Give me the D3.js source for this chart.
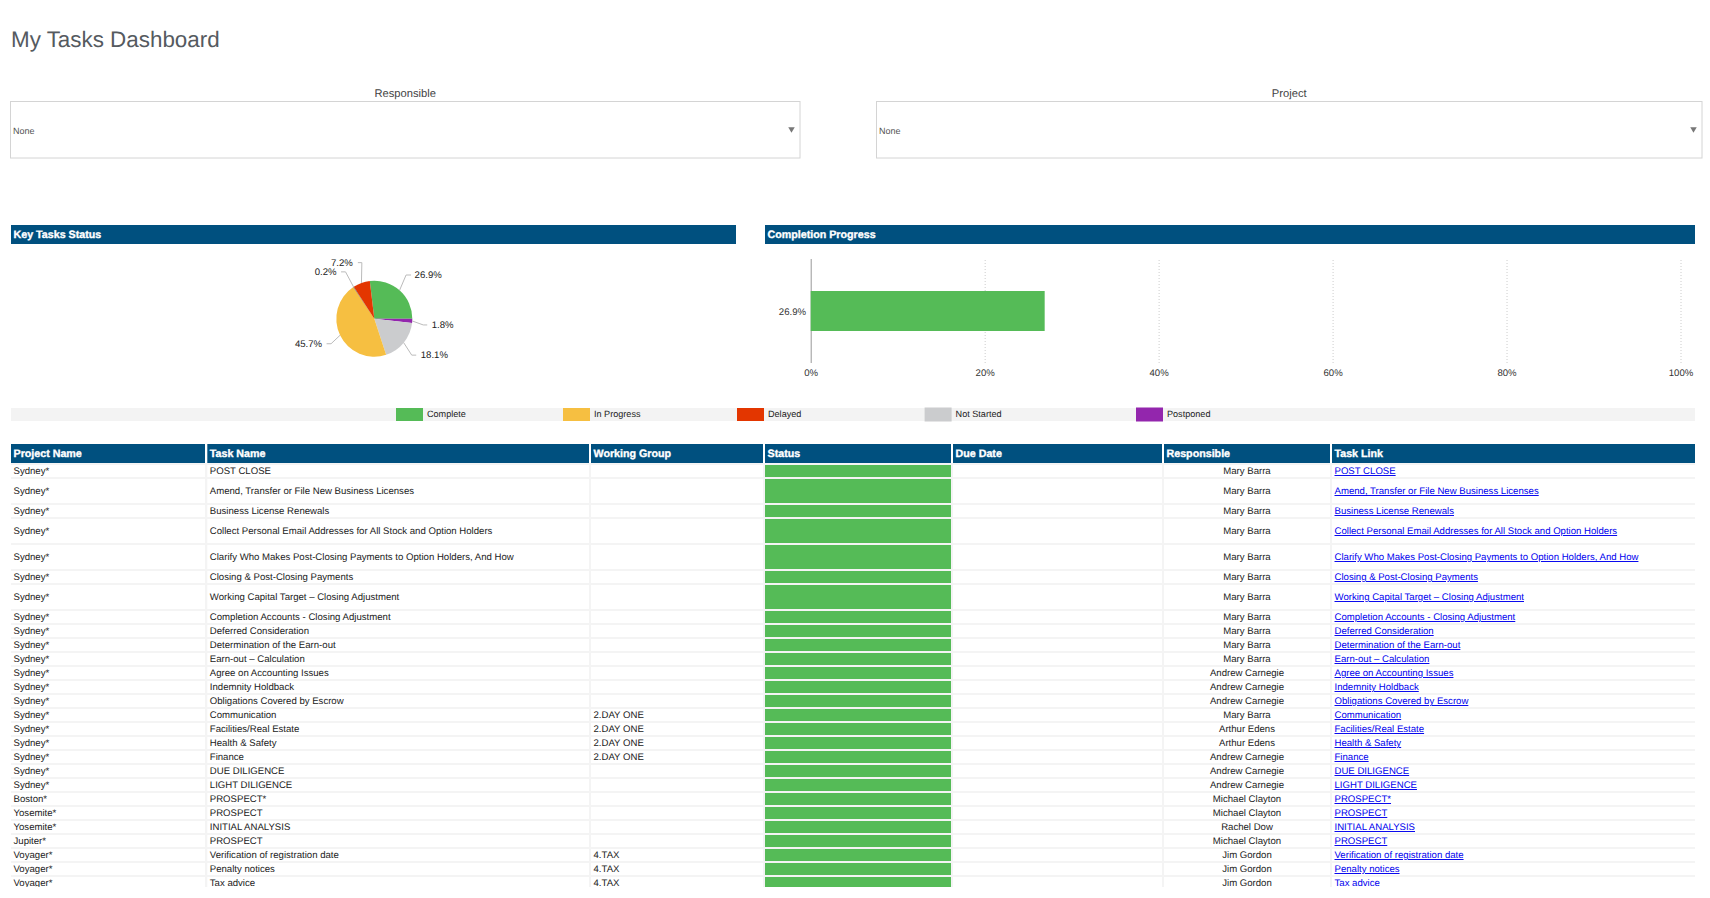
<!DOCTYPE html>
<html>
<head>
<meta charset="utf-8">
<title>My Tasks Dashboard</title>
<script src="https://cdn.jsdelivr.net/npm/d3@7"></script>
<style>
    html, body { margin: 0; padding: 0; background: #fff; overflow: hidden; }
    svg { display: block; font-family: "Liberation Sans", Arial, sans-serif; text-rendering: geometricPrecision; }
    .panel-title { font-size: 10.7px; font-weight: bold; fill: #fff; stroke: #fff; stroke-width: 0.35px; }
    .axis text { font-size: 9.6px; fill: #333; font-family: "Liberation Sans", Arial, sans-serif; }
    .cell { font-size: 9.6px; fill: #222; }
    .link { font-size: 9.6px; fill: #0000ee; text-decoration: underline; }
</style>
</head>
<body>
<svg id="dash" width="1710" height="898"></svg>
<script>
// status share of all key tasks, clockwise from the top of the pie
const pieLabels = ["Complete", "Postponed", "Not Started", "In Progress", "Other", "Delayed"];
const pieValues = [26.9, 1.8, 18.1, 45.7, 0.2, 7.2];
const pieColors = ["#55bb57", "#9326ad", "#cbccce", "#f6bf41", "#34507a", "#e33600"];

const progressLabels = ["26.9%"];
const progressValues = [26.9];
const progressTicks = [0, 20, 40, 60, 80, 100];

const legendLabels = ["Complete", "In Progress", "Delayed", "Not Started", "Postponed"];

const tableHeaders = ["Project Name", "Task Name", "Working Group", "Status", "Due Date", "Responsible", "Task Link"];

const projects = ["Sydney*", "Sydney*", "Sydney*", "Sydney*", "Sydney*", "Sydney*", "Sydney*", "Sydney*", "Sydney*",
    "Sydney*", "Sydney*", "Sydney*", "Sydney*", "Sydney*", "Sydney*", "Sydney*", "Sydney*", "Sydney*", "Sydney*",
    "Sydney*", "Boston*", "Yosemite*", "Yosemite*", "Jupiter*", "Voyager*", "Voyager*", "Voyager*"];

const tasks = ["POST CLOSE", "Amend, Transfer or File New Business Licenses", "Business License Renewals",
    "Collect Personal Email Addresses for All Stock and Option Holders",
    "Clarify Who Makes Post-Closing Payments to Option Holders, And How", "Closing & Post-Closing Payments",
    "Working Capital Target – Closing Adjustment", "Completion Accounts - Closing Adjustment",
    "Deferred Consideration", "Determination of the Earn-out", "Earn-out – Calculation",
    "Agree on Accounting Issues", "Indemnity Holdback", "Obligations Covered by Escrow", "Communication",
    "Facilities/Real Estate", "Health & Safety", "Finance", "DUE DILIGENCE", "LIGHT DILIGENCE", "PROSPECT*",
    "PROSPECT", "INITIAL ANALYSIS", "PROSPECT", "Verification of registration date", "Penalty notices", "Tax advice"];

const groups = ["", "", "", "", "", "", "", "", "", "", "", "", "", "", "2.DAY ONE", "2.DAY ONE", "2.DAY ONE",
    "2.DAY ONE", "", "", "", "", "", "", "4.TAX", "4.TAX", "4.TAX"];

const responsible = ["Mary Barra", "Mary Barra", "Mary Barra", "Mary Barra", "Mary Barra", "Mary Barra", "Mary Barra",
    "Mary Barra", "Mary Barra", "Mary Barra", "Mary Barra", "Andrew Carnegie", "Andrew Carnegie", "Andrew Carnegie",
    "Mary Barra", "Arthur Edens", "Arthur Edens", "Andrew Carnegie", "Andrew Carnegie", "Andrew Carnegie",
    "Michael Clayton", "Michael Clayton", "Rachel Dow", "Michael Clayton", "Jim Gordon", "Jim Gordon", "Jim Gordon"];

// rows that wrapped to two lines in the original table
const tallRows = [1, 3, 4, 6];

const NAVY = "#00507f";
const GREEN = pieColors[0];

class TasksDashboard {
    constructor() {
        this.svg = d3.select("#dash");

        this.drawTitle();
        this.drawFilter("Responsible", 10.5, 800);
        this.drawFilter("Project", 876.5, 1702);
        this.drawPanelHeader("Key Tasks Status", 11, 736);
        this.drawPanelHeader("Completion Progress", 765, 1695);
        this.drawPie();
        this.drawProgress();
        this.drawLegend();
        this.drawTable();
    }

    drawTitle() {
        this.svg.append("text")
            .attr("x", 11).attr("y", 47)
            .attr("font-size", 22.4)
            .attr("fill", "#555a5f")
            .text("My Tasks Dashboard");
    }

    drawFilter(label, x0, x1) {
        let g = this.svg.append("g");
        g.append("text")
            .attr("x", (x0 + x1) / 2).attr("y", 97)
            .attr("text-anchor", "middle")
            .attr("font-size", 11.2)
            .attr("fill", "#444")
            .text(label);
        g.append("rect")
            .attr("x", x0).attr("y", 101.5)
            .attr("width", x1 - x0).attr("height", 56.5)
            .attr("fill", "#fff")
            .attr("stroke", "#d4d4d4");
        g.append("text")
            .attr("x", x0 + 2.5).attr("y", 134)
            .attr("font-size", 9)
            .attr("fill", "#555")
            .text("None");
        g.append("path")
            .attr("d", d3.symbol(d3.symbolTriangle, 18))
            .attr("transform", `translate(${x1 - 8.5},129) rotate(180)`)
            .attr("fill", "#777");
    }

    drawPanelHeader(label, x0, x1) {
        this.svg.append("rect")
            .attr("x", x0).attr("y", 225)
            .attr("width", x1 - x0).attr("height", 19)
            .attr("fill", NAVY);
        this.svg.append("text")
            .attr("class", "panel-title")
            .attr("x", x0 + 2.5).attr("y", 237.8)
            .text(label);
    }

    drawPie() {
        const radius = 38;
        const startAngle = -6.8 * Math.PI / 180;
        // where each leader line bends, relative to its slice edge
        const bends = [[6.5, -15.3], [11, 4], [8, 12.4], [-9, 8.5], [-8, -15], [0.4, -20.3]];
        const runs = [5, 4, 4.5, -4.5, -4.5, -4];
        const gaps = [3.5, 4.5, 4.5, -4.5, -4.5, -5];

        let g = this.svg.append("g").attr("transform", "translate(374.3,318.7)");
        let pie = d3.pie().sort(null).startAngle(startAngle).endAngle(startAngle + 2 * Math.PI);
        let arc = d3.arc().innerRadius(0).outerRadius(radius);
        let edge = d3.arc().innerRadius(radius).outerRadius(radius);
        let arcs = pie(pieValues);

        g.selectAll("path.slice")
            .data(arcs)
            .join("path")
            .attr("class", "slice")
            .attr("d", arc)
            .attr("fill", (d, i) => pieColors[i]);

        arcs.forEach((d, i) => {
            let p = edge.centroid(d);
            let bend = [p[0] + bends[i][0], p[1] + bends[i][1]];
            let end = [bend[0] + runs[i], bend[1]];
            g.append("polyline")
                .attr("points", [p, bend, end].join(" "))
                .attr("fill", "none")
                .attr("stroke", "#bbb")
                .attr("stroke-width", 1);
            g.append("text")
                .attr("x", end[0] + gaps[i]).attr("y", end[1] + 3)
                .attr("text-anchor", runs[i] > 0 ? "start" : "end")
                .attr("font-size", 9.6)
                .attr("fill", "#222")
                .text(pieValues[i].toFixed(1) + "%");
        });
    }

    drawProgress() {
        const top = 259, bottom = 363;
        let x = d3.scaleLinear().domain([0, 100]).range([810.7, 1680.5]);
        let y = d3.scaleBand().domain(progressLabels).range([top, bottom]).paddingInner(0).paddingOuter(0.8);

        let axis = this.svg.append("g")
            .attr("class", "axis")
            .attr("transform", `translate(0,${bottom})`)
            .call(d3.axisBottom(x).tickValues(progressTicks).tickFormat(d => d + "%").tickSize(bottom - top));
        axis.select(".domain").remove();
        axis.selectAll(".tick line")
            .attr("y1", 0).attr("y2", top - bottom)
            .attr("stroke", d => d === 0 ? "#999" : "#ccc")
            .attr("stroke-dasharray", d => d === 0 ? null : "1,2");
        axis.selectAll(".tick text").attr("y", 6.3);

        this.svg.selectAll("rect.progress")
            .data(progressValues)
            .join("rect")
            .attr("class", "progress")
            .attr("x", x(0))
            .attr("y", (d, i) => y(progressLabels[i]))
            .attr("width", d => x(d) - x(0))
            .attr("height", y.bandwidth())
            .attr("fill", GREEN);

        this.svg.selectAll("text.progress-label")
            .data(progressLabels)
            .join("text")
            .attr("class", "progress-label")
            .attr("x", 806)
            .attr("y", d => y(d) + y.bandwidth() / 2 + 3.5)
            .attr("text-anchor", "end")
            .attr("font-size", 9.6)
            .attr("fill", "#333")
            .text(d => d);
    }

    drawLegend() {
        const swatchX = [396, 563, 737, 924.6, 1136];
        const color = d3.scaleOrdinal().domain(pieLabels).range(pieColors);

        this.svg.append("rect")
            .attr("x", 11).attr("y", 408)
            .attr("width", 1684).attr("height", 13)
            .attr("fill", "#f3f3f3");

        let items = this.svg.selectAll("g.legend-item")
            .data(legendLabels)
            .join("g")
            .attr("class", "legend-item")
            .attr("transform", (d, i) => `translate(${swatchX[i]},408)`);
        items.append("rect")
            .attr("y", (d, i) => i > 2 ? -0.5 : 0)
            .attr("width", 27)
            .attr("height", (d, i) => i > 2 ? 14 : 13)
            .attr("fill", d => color(d));
        items.append("text")
            .attr("x", 31)
            .attr("y", 9.3)
            .attr("font-size", 9.1)
            .attr("fill", "#222")
            .text(d => d);
    }

    drawTable() {
        // column edges, gaps of 2px between them
        const colX = [11, 207.3, 591, 765, 953, 1164, 1332];
        const colEnd = [205, 589, 763, 951, 1162, 1330, 1695];
        const headTop = 444, headBottom = 463, tableBottom = 887;
        const rowCount = tasks.length;

        this.svg.append("rect")
            .attr("x", 11).attr("y", headBottom)
            .attr("width", 1684).attr("height", tableBottom - headBottom)
            .attr("fill", "#f4f4f4");

        this.svg.selectAll("rect.head")
            .data(tableHeaders)
            .join("rect")
            .attr("class", "head")
            .attr("x", (d, i) => colX[i])
            .attr("y", headTop)
            .attr("width", (d, i) => colEnd[i] - colX[i])
            .attr("height", headBottom - headTop)
            .attr("fill", NAVY);
        this.svg.selectAll("text.head")
            .data(tableHeaders)
            .join("text")
            .attr("class", "head panel-title")
            .attr("x", (d, i) => colX[i] + 2.5)
            .attr("y", headTop + 12.8)
            .text(d => d);

        // running top of every row
        let rowTop = [];
        let top = 465;
        d3.range(rowCount).forEach(i => {
            let h = tallRows.includes(i) ? 24 : 12;
            rowTop.push({ i: i, top: top, h: h });
            top += h + 2;
        });

        let clip = this.svg.append("clipPath").attr("id", "table-clip");
        clip.append("rect").attr("x", 0).attr("y", 463).attr("width", 1710).attr("height", tableBottom - 463);

        let rows = this.svg.append("g")
            .attr("clip-path", "url(#table-clip)")
            .selectAll("g.row")
            .data(rowTop)
            .join("g")
            .attr("class", "row")
            .attr("transform", d => `translate(0,${d.top})`);

        tableHeaders.forEach((name, c) => {
            rows.append("rect")
                .attr("x", colX[c])
                .attr("width", colEnd[c] - colX[c])
                .attr("height", d => d.h)
                .attr("fill", name === "Status" ? GREEN : "#fff");
        });

        const textY = d => d.h / 2 + 3;
        const addCell = (c, values) => rows.append("text")
            .attr("class", "cell")
            .attr("x", colX[c] + 2.5)
            .attr("y", textY)
            .text(d => values[d.i]);

        addCell(0, projects);
        addCell(1, tasks);
        addCell(2, groups);
        addCell(5, responsible)
            .attr("x", (colX[5] + colEnd[5]) / 2)
            .attr("text-anchor", "middle");
        rows.append("text")
            .attr("class", "link")
            .attr("x", colX[6] + 2.5)
            .attr("y", textY)
            .text(d => tasks[d.i]);
    }
}

new TasksDashboard();
</script>
</body>
</html>
